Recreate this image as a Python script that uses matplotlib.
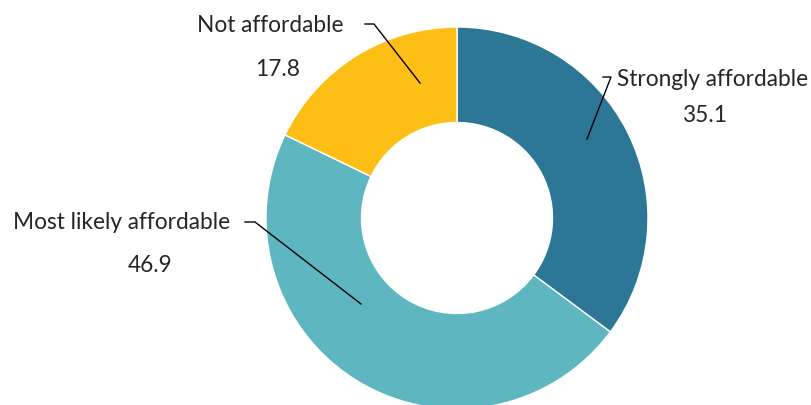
import matplotlib
matplotlib.use("Agg")
import matplotlib.pyplot as plt

categories = ["Strongly affordable", "Most likely affordable", "Not affordable"]
values = [35.1, 46.9, 17.8]
value_labels = ["35.1", "46.9", "17.8"]
colors = ["#2B7795", "#5EB6C1", "#FDBF16"]

W, H = 811, 406
fig = plt.figure(figsize=(W / 100, H / 100), dpi=100)
ax = fig.add_axes([0, 0, 1, 1])

cx, cy, R = 457, H - 219, 191
ax.pie(values, colors=colors, startangle=90, counterclock=False,
       center=(cx, cy), radius=R,
       wedgeprops=dict(width=R * 0.5, edgecolor="white", linewidth=1))
ax.set_xlim(0, W)
ax.set_ylim(0, H)
ax.set_aspect("equal")
ax.axis("off")

font = "Lato"
tc = "#262626"
fs = 16.3

def Y(y):
    return H - y

# label text positions (pixel coords, top-down)
label_pos = {
    "Strongly affordable": ((617, 80), "left", (705, 116)),
    "Most likely affordable": ((230, 223), "right", (150, 265)),
    "Not affordable": ((343, 25), "right", (278, 69)),
}
leaders = {
    "Strongly affordable": [(603, 78), (611, 78), (587, 140)],
    "Most likely affordable": [(245, 223), (255, 223), (361, 305)],
    "Not affordable": [(365, 25), (374, 25), (420, 84)],
}
for cat, vl in zip(categories, value_labels):
    (tx, ty), ha, (vx, vy) = label_pos[cat]
    ax.text(tx, Y(ty), cat, ha=ha, va="center", fontsize=fs, family=font, color=tc)
    ax.text(vx, Y(vy), vl, ha="center", va="center", fontsize=fs, family=font, color=tc)
    pts = leaders[cat]
    ax.plot([p[0] for p in pts], [Y(p[1]) for p in pts], color="black", lw=1)

fig.savefig("out.png", dpi=100)
